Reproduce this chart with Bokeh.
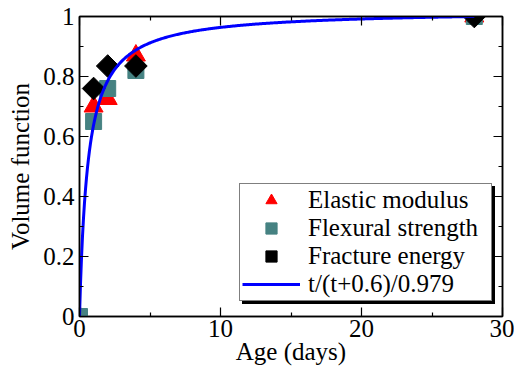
import numpy as np
from bokeh.plotting import figure
from bokeh.models import Range1d, LinearAxis, Legend, LegendItem, FixedTicker
from bokeh.embed import file_html
from bokeh.resources import INLINE

# ---- data ----
age_days = [0, 1, 2, 4, 28]
elastic_modulus = [0.0, 0.70, 0.725, 0.87, 1.0]
flexural_strength = [0.0, 0.65, 0.76, 0.82, 1.0]
fracture_age = [1, 2, 4, 28]
fracture_energy = [0.76, 0.835, 0.835, 1.0]

fit_a = 0.6
fit_norm = 0.979
fit_t_max = 28
fit_label = "t/(t+0.6)/0.979"

x_ticks = [0, 10, 20, 30]
x_minor = [5, 15, 25]
y_ticks = [0, 0.2, 0.4, 0.6, 0.8, 1]
y_tick_labels = ["0", "0.2", "0.4", "0.6", "0.8", "1"]
y_minor = [0.1, 0.3, 0.5, 0.7, 0.9]

FONT = "Times New Roman"
FS = "25px"

t_fit = np.linspace(0, fit_t_max, 400)
v_fit = t_fit / (t_fit + fit_a) / fit_norm

p = figure(width=514, height=367, output_backend="svg", toolbar_location=None,
           x_range=Range1d(0, 30), y_range=Range1d(0, 1),
           min_border_left=79, min_border_right=12, min_border_top=16, min_border_bottom=50)
p.grid.visible = False
p.outline_line_color = "black"
p.outline_line_width = 1.5
p.background_fill_color = "white"
p.border_fill_color = "white"

xt = FixedTicker(ticks=x_ticks, minor_ticks=x_minor)
yt = FixedTicker(ticks=y_ticks, minor_ticks=y_minor)

def style_axis(ax, ticker, labels=True):
    ax.ticker = ticker
    ax.axis_line_color = "black"
    ax.axis_line_width = 1.5
    ax.major_tick_in = 9
    ax.major_tick_out = 0
    ax.minor_tick_in = 4
    ax.minor_tick_out = 0
    ax.major_tick_line_width = 1.2
    ax.minor_tick_line_width = 1.2
    ax.major_tick_line_color = "black"
    ax.minor_tick_line_color = "black"
    if labels:
        ax.major_label_text_font = FONT
        ax.major_label_text_font_size = FS
        ax.major_label_text_color = "black"
        ax.axis_label_text_font = FONT
        ax.axis_label_text_font_size = FS
        ax.axis_label_text_font_style = "normal"
        ax.axis_label_text_color = "black"
    else:
        ax.major_label_overrides = {t: "" for t in ticker.ticks}
        ax.major_label_text_font_size = "1px"
        ax.major_label_standoff = 0

style_axis(p.xaxis[0], xt)
style_axis(p.yaxis[0], yt)
p.xaxis[0].axis_label = "Age (days)"
p.yaxis[0].axis_label = "Volume function"
p.xaxis[0].major_label_standoff = 3
p.xaxis[0].axis_label_standoff = -2
p.yaxis[0].major_label_standoff = 5
p.yaxis[0].axis_label_standoff = 6
p.yaxis[0].major_label_overrides = {t: s for t, s in zip(y_ticks, y_tick_labels)}

top = LinearAxis()
style_axis(top, xt, labels=False)
p.add_layout(top, "above")
right = LinearAxis()
style_axis(right, yt, labels=False)
p.add_layout(right, "right")

r_fit = p.line(t_fit, v_fit, line_color="#0000ff", line_width=3)
r_em = p.scatter(age_days, elastic_modulus, marker="triangle", size=19,
                 fill_color="#ff0000", line_color="#ff0000")
r_fs = p.scatter(age_days, flexural_strength, marker="square", size=16,
                 fill_color="#468282", line_color="#468282")
r_fe = p.scatter(fracture_age, fracture_energy, marker="square", angle=np.pi / 4, size=16,
                 fill_color="black", line_color="black")
p.renderers.remove(r_fit)
p.renderers.append(r_fit)

def make_items():
    return [LegendItem(label="Elastic modulus", renderers=[r_em]),
            LegendItem(label="Flexural strength", renderers=[r_fs]),
            LegendItem(label="Fracture energy", renderers=[r_fe]),
            LegendItem(label=fit_label, renderers=[r_fit])]

def make_legend(loc, shadow=False):
    lg = Legend(items=make_items(), location=loc)
    lg.label_text_font = FONT
    lg.label_text_font_size = FS
    lg.label_text_color = "black"
    lg.label_height = 28
    lg.label_width = 181
    lg.glyph_height = 28
    lg.glyph_width = 58
    lg.label_standoff = 8
    lg.spacing = 0
    lg.padding = 2
    lg.margin = 0
    lg.border_line_color = "black"
    lg.border_line_width = 1.5
    lg.background_fill_alpha = 1
    lg.background_fill_color = "black" if shadow else "white"
    return lg

p.add_layout(make_legend((163, 12), shadow=True), "center")
p.add_layout(make_legend((160, 15)), "center")

open("out.html", "w").write(file_html(p, INLINE))
